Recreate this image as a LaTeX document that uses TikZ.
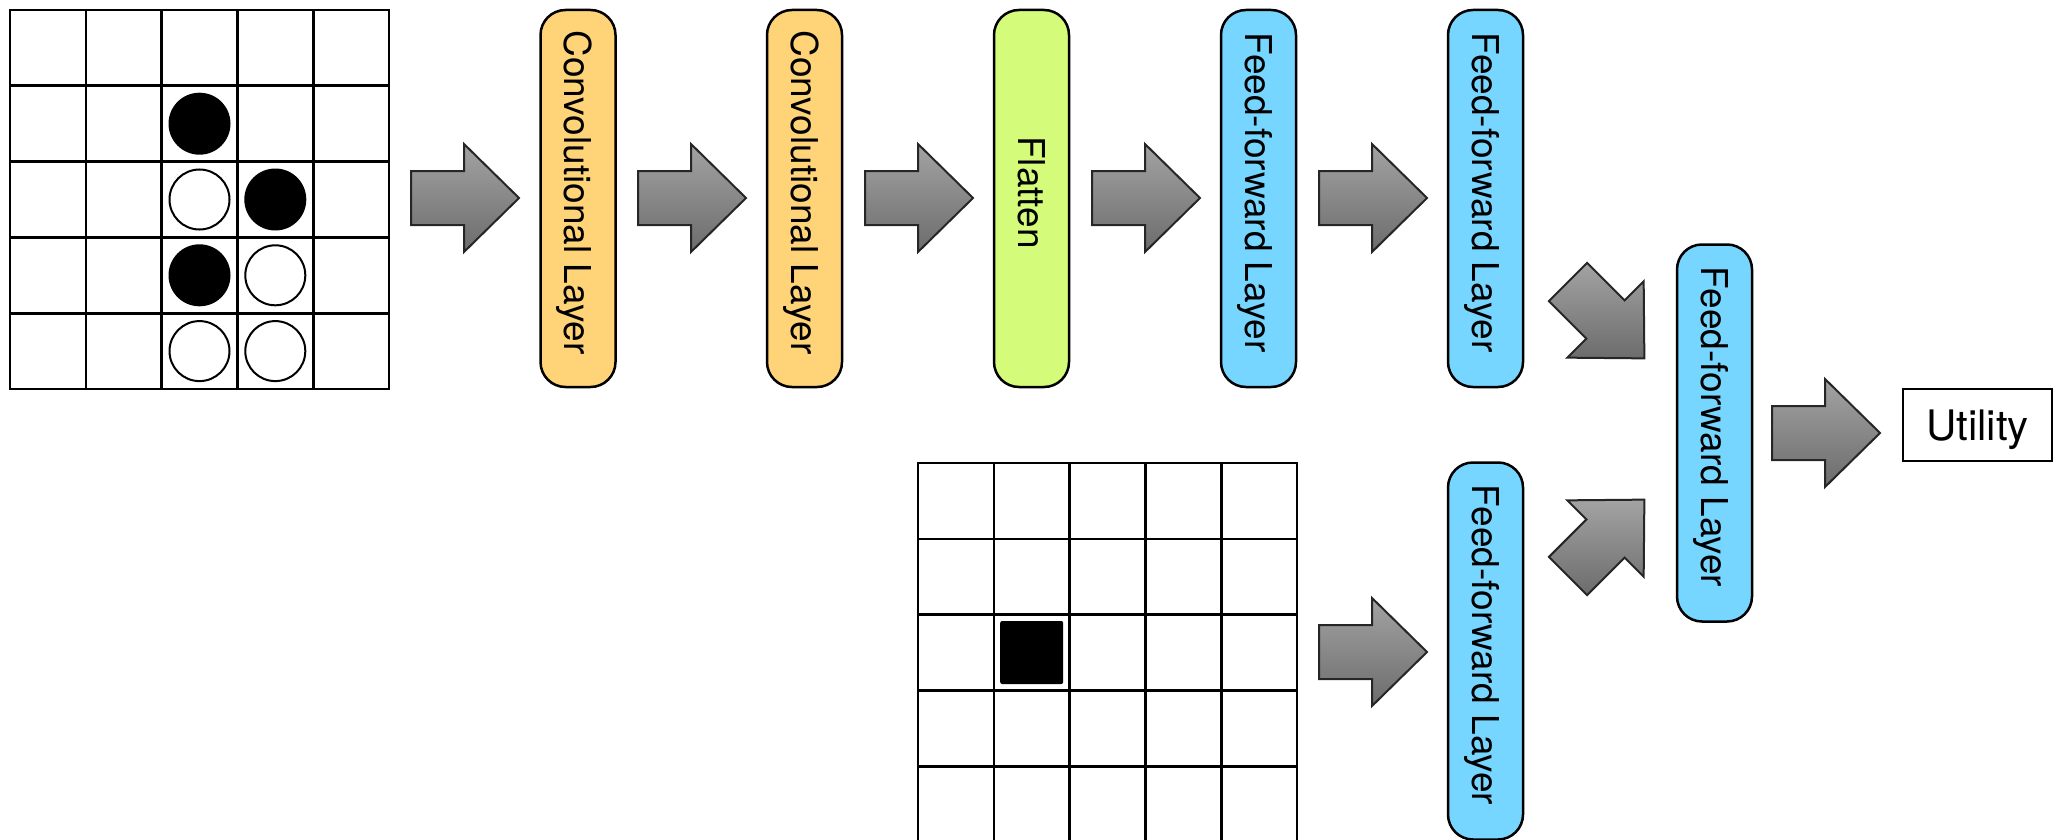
\documentclass[tikz,border=0pt]{standalone}
\usepackage{fontspec}
\setmainfont{TeX Gyre Heros}
\definecolor{convc}{HTML}{FFD479}
\definecolor{flatc}{HTML}{D4FB79}
\definecolor{ffc}{HTML}{76D6FF}
\definecolor{arrtop}{HTML}{A3A3A3}
\definecolor{arrbot}{HTML}{6C6C6C}
\definecolor{arrline}{HTML}{262626}
\tikzset{
  layerbox/.style={draw=black, line width=2.5pt, rounded corners=25pt, rotate=-90,
    minimum width=377pt, minimum height=75pt, inner sep=0pt,
    text height=26.6pt, text depth=0pt, font=\fontsize{37}{40}\selectfont},
  convlayer/.style={layerbox, fill=convc},
  flatlayer/.style={layerbox, fill=flatc},
  fflayer/.style={layerbox, fill=ffc},
  gridline/.style={line width=2.6pt, line cap=rect},
  blackstone/.style={circle, fill=black, minimum size=62pt, inner sep=0pt},
  whitestone/.style={circle, draw=black, fill=white, line width=2pt, minimum size=60pt, inner sep=0pt},
  pics/blockarrow/.style={code={
    \draw[line width=2pt, draw=arrline, top color=arrtop, bottom color=arrbot, line join=miter]
      (0,-27) -- (53,-27) -- (53,-54) -- (108,0) -- (53,54) -- (53,27) -- (0,27) -- cycle;}}
}
\begin{document}
\begin{tikzpicture}[x=1pt, y=-1pt]
\useasboundingbox (0,0) rectangle (2064,840);
% board 1
\foreach \i in {0,...,5} {
  \draw[gridline] (10+75.8*\i,10) -- (10+75.8*\i,389);
  \draw[gridline] (10,10+75.8*\i) -- (389,10+75.8*\i);
}
\node[blackstone] (s1) at (10+75.8*2.5,10+75.8*1.5) {};
\node[whitestone] (s2) at (10+75.8*2.5,10+75.8*2.5) {};
\node[blackstone] (s3) at (10+75.8*3.5,10+75.8*2.5) {};
\node[blackstone] (s4) at (10+75.8*2.5,10+75.8*3.5) {};
\node[whitestone] (s5) at (10+75.8*3.5,10+75.8*3.5) {};
\node[whitestone] (s6) at (10+75.8*2.5,10+75.8*4.5) {};
\node[whitestone] (s7) at (10+75.8*3.5,10+75.8*4.5) {};
% board 2
\foreach \i in {0,...,5} {
  \draw[gridline] (918+75.8*\i,463) -- (918+75.8*\i,842);
  \draw[gridline] (918,463+75.8*\i) -- (1297,463+75.8*\i);
}
\node[fill=black, rounded corners=2pt, minimum size=63pt, inner sep=0pt] (cur) at (918+75.8*1.5,463+75.8*2.5) {};
% layers
\node[convlayer] (conv1) at (578,198.5) {Convolutional Layer\kern12pt};
\node[convlayer] (conv2) at (804.5,198.5) {Convolutional Layer\kern12pt};
\node[flatlayer] (flat) at (1031.5,198.5) {Flatten\kern12pt};
\node[fflayer] (ff1) at (1258.5,198.5) {Feed-forward Layer\kern12pt};
\node[fflayer] (ff2) at (1485.5,198.5) {Feed-forward Layer\kern12pt};
\node[fflayer] (ff3) at (1485.5,651) {Feed-forward Layer\kern12pt};
\node[fflayer] (ff4) at (1714.5,433) {Feed-forward Layer\kern12pt};
\node[draw=black, line width=2pt, fill=white, minimum width=149pt, minimum height=72pt, inner sep=0pt,
  font=\fontsize{42}{44}\selectfont, text height=30.2pt, text depth=0pt] (util) at (1977.5,425) {Utility};
% block arrows
\pic (a1) at (411,198) {blockarrow};
\pic (a2) at (638,198) {blockarrow};
\pic (a3) at (865,198) {blockarrow};
\pic (a4) at (1092,198) {blockarrow};
\pic (a5) at (1319,198) {blockarrow};
\pic (a6) at (1319,652) {blockarrow};
\pic[rotate=-45] (a7) at (1568,282) {blockarrow};
\pic[rotate=45] (a8) at (1568,576) {blockarrow};
\pic (a9) at (1772,433) {blockarrow};
\end{tikzpicture}
\end{document}
